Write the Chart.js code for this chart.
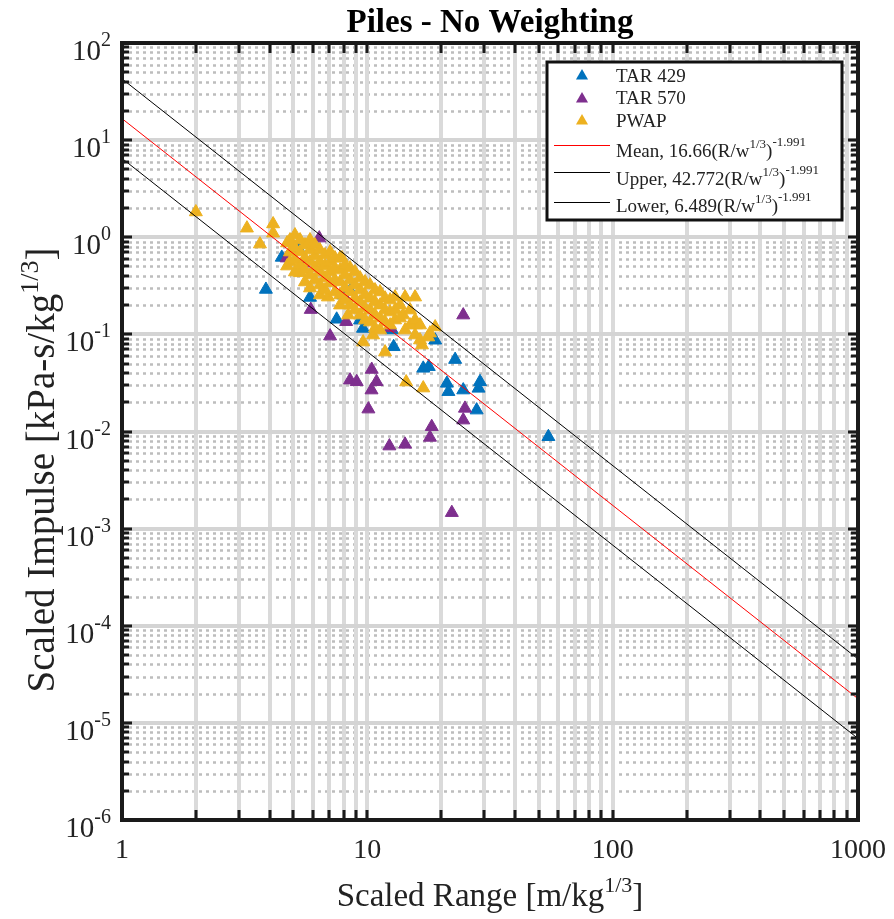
<!DOCTYPE html>
<html>
<head>
<meta charset="utf-8">
<script src="https://cdn.jsdelivr.net/npm/chart.js@4.4.0/dist/chart.umd.min.js"></script>
<style>
html,body{margin:0;padding:0;background:#ffffff;}
canvas{display:block;}
</style>
</head>
<body>
<canvas id="c" width="894" height="919"></canvas>
<script>
// ---------------- DATA ----------------
const chartTitle = 'Piles - No Weighting';
const seriesNames = ['TAR 429', 'TAR 570', 'PWAP'];
const seriesColors = ['#0072BD', '#7E2F8E', '#EDB120'];

// [scaled range, scaled impulse]
const tar429 = [
  [3.86,0.29],[4.48,0.62],[5.23,0.77],[5.84,0.24],[7.5,0.143],[7.98,0.254],[8.5,0.28],
  [9.34,0.14],[9.6,0.115],[12.6,0.111],[12.8,0.0745],[18.9,0.087],[16.9,0.0447],[17.8,0.0465],
  [22.8,0.055],[21.1,0.0313],[21.4,0.0257],[24.6,0.0267],[28.4,0.0278],[28.8,0.0325],
  [27.9,0.0166],[54.7,0.00883]
];
const tar570 = [
  [6.37,0.98],[4.69,0.61],[5.5,0.54],[5.88,0.18],[7.05,0.096],[8.2,0.135],[12.4,0.117],
  [24.6,0.158],[8.5,0.0338],[9.05,0.0325],[10.42,0.0435],[10.9,0.0325],[10.4,0.0267],
  [10.1,0.017],[12.3,0.00708],[14.25,0.00737],[18.0,0.00869],[18.3,0.0112],[22.1,0.00146],
  [24.6,0.0131],[25.0,0.0173]
];
const pwap = [
  [2.00,1.82],[3.23,1.24],[4.13,1.37],[4.13,1.10],[3.65,0.85],[4.89,0.89],[5.32,0.43],
  [6.91,0.242],[8.35,0.158],[9.61,0.0833],[10.55,0.0984],[11.81,0.0657],[14.4,0.0323],
  [16.9,0.028],[16.7,0.0776],[17.7,0.0938],[18.9,0.119],[18.0,0.103],[14.0,0.158],
  [15.8,0.125],[14.25,0.242],[15.65,0.242],[12.97,0.242],[4.71,0.505],[4.71,0.872],[7.88,0.61],
  [4.84,0.936],[4.84,0.704],[4.84,0.555],
  [5.07,1.054],[5.07,0.774],[5.07,0.582],[5.07,0.438],
  [5.32,0.936],[5.32,0.704],[5.32,0.517],
  [5.57,0.831],[5.57,0.611],[5.57,0.459],[5.57,0.346],
  [5.84,0.936],[5.84,0.738],[5.84,0.555],[5.84,0.408],[5.84,0.300],
  [6.12,0.831],[6.12,0.640],[6.12,0.482],[6.12,0.362],
  [6.41,0.738],[6.41,0.555],[6.41,0.438],[6.41,0.322],[6.41,0.254],
  [6.72,0.656],[6.72,0.505],[6.72,0.380],[6.72,0.286],
  [7.05,0.704],[7.05,0.555],[7.05,0.438],[7.05,0.338],
  [7.38,0.611],[7.38,0.482],[7.38,0.362],[7.38,0.273],
  [7.74,0.611],[7.74,0.459],[7.74,0.346],[7.74,0.254],[7.74,0.200],
  [8.11,0.517],[8.11,0.408],[8.11,0.300],[8.11,0.2255],
  [8.50,0.482],[8.50,0.362],[8.50,0.273],[8.50,0.200],
  [8.91,0.438],[8.91,0.322],[8.91,0.236],[8.91,0.178],
  [9.34,0.380],[9.34,0.286],[9.34,0.215],[9.34,0.158],
  [9.79,0.346],[9.79,0.254],[9.79,0.1866],[9.79,0.1404],
  [10.26,0.322],[10.26,0.236],[10.26,0.178],[10.26,0.1338],
  [10.75,0.286],[10.75,0.215],[10.75,0.158],[10.75,0.1161],
  [11.27,0.273],[11.27,0.200],[11.27,0.1472],[11.27,0.1107],
  [11.81,0.236],[11.81,0.178],[11.81,0.1338],
  [12.38,0.2255],[12.38,0.1697],[12.38,0.1247],
  [12.97,0.178],[12.97,0.1404],
  [13.59,0.200],[13.59,0.1472],
  [14.25,0.1107],
  [14.93,0.178],[14.93,0.1247],
  [15.65,0.1404],[15.65,0.0984],
  [16.40,0.1247],[16.40,0.0874]
];

// fit lines: I = c * (R/w^(1/3))^-1.991, end points at R = 1 and R = 1000
const fitNames = ['Mean', 'Upper', 'Lower'];
const fitCoefText = ['16.66', '42.772', '6.489'];
const fitExpText = '-1.991';
const fitColors = ['#ff0000', '#000000', '#000000'];
const fitX = [1, 1000];
const meanY = [16.66, 1.7728e-5];
const upperY = [42.772, 4.5514e-5];
const lowerY = [6.489, 6.905e-6];

// axes
const xRange = [1, 1000];
const yRange = [1e-6, 100];
const xTickValues = [1, 10, 100, 1000];
const xTickLabels = ['1', '10', '100', '1000'];
const yTickValues = [1e2, 1e1, 1e0, 1e-1, 1e-2, 1e-3, 1e-4, 1e-5, 1e-6];
const yTickExps = ['2', '1', '0', '-1', '-2', '-3', '-4', '-5', '-6'];
const xTitle = ['Scaled Range [m/kg', '1/3', ']'];
const yTitle = ['Scaled Impulse [kPa-s/kg', '1/3', ']'];

// ---------------- DRAWING ----------------
const SERIF = '"Liberation Serif", "Times New Roman", Times, serif';
function fnt(size, bold) { return (bold ? 'bold ' : '') + size + 'px ' + SERIF; }

function drawRich(ctx, parts, x, y, align) {
  let w = 0;
  parts.forEach(p => { ctx.font = p.font; w += ctx.measureText(p.t).width; });
  let cx = align === 'center' ? x - w / 2 : (align === 'right' ? x - w : x);
  ctx.textAlign = 'left';
  ctx.textBaseline = 'alphabetic';
  parts.forEach(p => {
    ctx.font = p.font;
    ctx.fillText(p.t, cx, y + (p.dy || 0));
    cx += ctx.measureText(p.t).width;
  });
}

function minorValues(lo, hi) {
  const out = [];
  for (let e = Math.round(Math.log10(lo)); e < Math.round(Math.log10(hi)); e++) {
    for (let m = 2; m <= 9; m++) out.push(m * Math.pow(10, e));
  }
  return out;
}
function decadeValues(lo, hi) {
  const out = [];
  for (let e = Math.round(Math.log10(lo)); e <= Math.round(Math.log10(hi)); e++) out.push(Math.pow(10, e));
  return out;
}

function triangle(ctx, x, y, r, color) {
  ctx.beginPath();
  ctx.moveTo(x, y - r);
  ctx.lineTo(x + r * Math.sin(2 * Math.PI / 3), y + r / 2);
  ctx.lineTo(x - r * Math.sin(2 * Math.PI / 3), y + r / 2);
  ctx.closePath();
  ctx.fillStyle = color;
  ctx.fill();
}

const gridPlugin = {
  id: 'matlabGrid',
  beforeDraw(chart) {
    const ctx = chart.ctx;
    ctx.save();
    ctx.fillStyle = '#ffffff';
    ctx.fillRect(0, 0, chart.width, chart.height);
    ctx.restore();
  },
  beforeDatasetsDraw(chart) {
    const ctx = chart.ctx, a = chart.chartArea;
    const xs = chart.scales.x, ys = chart.scales.y;
    ctx.save();
    // minor horizontal dotted
    ctx.strokeStyle = '#bdbdbd';
    ctx.lineWidth = 2.5;
    ctx.setLineDash([3, 4]);
    minorValues(yRange[0], yRange[1]).forEach(v => {
      const py = Math.round(ys.getPixelForValue(v)) + 0.5;
      ctx.beginPath(); ctx.moveTo(a.left, py); ctx.lineTo(a.right, py); ctx.stroke();
    });
    ctx.setLineDash([]);
    // vertical lines (minor + major)
    ctx.strokeStyle = '#dadada';
    ctx.lineWidth = 4;
    minorValues(xRange[0], xRange[1]).concat(decadeValues(xRange[0], xRange[1])).forEach(v => {
      const px = Math.round(xs.getPixelForValue(v));
      ctx.beginPath(); ctx.moveTo(px, a.top); ctx.lineTo(px, a.bottom); ctx.stroke();
    });
    // major horizontal
    ctx.strokeStyle = '#d4d4d4';
    ctx.lineWidth = 4;
    decadeValues(yRange[0], yRange[1]).forEach(v => {
      const py = Math.round(ys.getPixelForValue(v));
      ctx.beginPath(); ctx.moveTo(a.left, py); ctx.lineTo(a.right, py); ctx.stroke();
    });
    ctx.restore();
  },
  afterDraw(chart) {
    const ctx = chart.ctx, a = chart.chartArea;
    const xs = chart.scales.x, ys = chart.scales.y;
    ctx.save();
    // ticks (inward, all four sides)
    ctx.strokeStyle = '#1a1a1a';
    ctx.lineWidth = 3;
    const xAll = decadeValues(xRange[0], xRange[1]).map(v => [v, 10]).concat(minorValues(xRange[0], xRange[1]).map(v => [v, 10]));
    xAll.forEach(([v, len]) => {
      const px = Math.round(xs.getPixelForValue(v));
      ctx.beginPath(); ctx.moveTo(px, a.bottom); ctx.lineTo(px, a.bottom - len); ctx.stroke();
      ctx.beginPath(); ctx.moveTo(px, a.top); ctx.lineTo(px, a.top + len); ctx.stroke();
    });
    const yAll = decadeValues(yRange[0], yRange[1]).map(v => [v, 10]).concat(minorValues(yRange[0], yRange[1]).map(v => [v, 7]));
    yAll.forEach(([v, len]) => {
      const py = Math.round(ys.getPixelForValue(v));
      ctx.beginPath(); ctx.moveTo(a.left, py); ctx.lineTo(a.left + len, py); ctx.stroke();
      ctx.beginPath(); ctx.moveTo(a.right, py); ctx.lineTo(a.right - len, py); ctx.stroke();
    });
    // axes box
    ctx.lineWidth = 4;
    ctx.strokeStyle = '#1a1a1a';
    ctx.strokeRect(a.left, a.top, a.right - a.left, a.bottom - a.top);

    // tick labels
    ctx.fillStyle = '#222222';
    xTickValues.forEach((v, i) => {
      const px = xs.getPixelForValue(v);
      drawRich(ctx, [{ t: xTickLabels[i], font: fnt(28) }], px, a.bottom + 38, 'center');
    });
    yTickValues.forEach((v, i) => {
      const py = ys.getPixelForValue(v);
      drawRich(ctx, [
        { t: '10', font: fnt(29) },
        { t: yTickExps[i], font: fnt(20), dy: -14 }
      ], a.left - 11, py + 17, 'right');
    });

    // axis titles
    const cx = (a.left + a.right) / 2;
    drawRich(ctx, [
      { t: xTitle[0], font: fnt(33) },
      { t: xTitle[1], font: fnt(22), dy: -14 },
      { t: xTitle[2], font: fnt(33) }
    ], cx, 906, 'center');
    ctx.save();
    ctx.translate(54, 470);
    ctx.rotate(-Math.PI / 2);
    drawRich(ctx, [
      { t: yTitle[0], font: fnt(39) },
      { t: yTitle[1], font: fnt(26), dy: -16 },
      { t: yTitle[2], font: fnt(39) }
    ], 0, 0, 'center');
    ctx.restore();

    // title
    ctx.fillStyle = '#000000';
    drawRich(ctx, [{ t: chartTitle, font: fnt(33, true) }], cx, 32, 'center');

    // legend
    const L = { x: 547, y: 62, w: 295, h: 158 };
    ctx.fillStyle = '#ffffff';
    ctx.fillRect(L.x, L.y, L.w, L.h);
    ctx.lineWidth = 3;
    ctx.strokeStyle = '#111111';
    ctx.strokeRect(L.x, L.y, L.w, L.h);
    const mk = [75, 98, 120], tb = [82, 104, 127];
    seriesNames.forEach((n, i) => {
      triangle(ctx, 582, mk[i] + 1, 7, seriesColors[i]);
      ctx.fillStyle = '#222222';
      drawRich(ctx, [{ t: n, font: fnt(19) }], 616, tb[i], 'left');
    });
    const ly = [145, 172, 202], lb = [157, 185, 212];
    fitNames.forEach((n, i) => {
      ctx.strokeStyle = fitColors[i];
      ctx.lineWidth = 1.2;
      ctx.beginPath(); ctx.moveTo(554, ly[i] + 0.5); ctx.lineTo(610, ly[i] + 0.5); ctx.stroke();
      ctx.fillStyle = '#222222';
      drawRich(ctx, [
        { t: n + ', ' + fitCoefText[i] + '(R/w', font: fnt(19) },
        { t: '1/3', font: fnt(13), dy: -9 },
        { t: ')', font: fnt(19) },
        { t: fitExpText, font: fnt(13), dy: -11 }
      ], 616, lb[i], 'left');
    });
    ctx.restore();
  }
};

const toPts = arr => arr.map(p => ({ x: p[0], y: p[1] }));
const linePts = ys => fitX.map((x, i) => ({ x: x, y: ys[i] }));

function markerSet(name, data, color, order) {
  return {
    label: name, data: toPts(data), order: order,
    pointStyle: 'triangle', pointRadius: 7.5, pointHoverRadius: 7.5,
    backgroundColor: color, borderColor: color, borderWidth: 1, showLine: false
  };
}
function lineSet(name, data, color) {
  return {
    label: name, data: linePts(data), order: 0, showLine: true,
    borderColor: color, borderWidth: 1, pointRadius: 0, fill: false
  };
}

new Chart(document.getElementById('c').getContext('2d'), {
  type: 'scatter',
  data: {
    datasets: [
      lineSet(fitNames[0], meanY, fitColors[0]),
      lineSet(fitNames[1], upperY, fitColors[1]),
      lineSet(fitNames[2], lowerY, fitColors[2]),
      markerSet(seriesNames[2], pwap, seriesColors[2], 1),
      markerSet(seriesNames[1], tar570, seriesColors[1], 2),
      markerSet(seriesNames[0], tar429, seriesColors[0], 3)
    ]
  },
  options: {
    responsive: false,
    animation: false,
    devicePixelRatio: 1,
    layout: { padding: { left: 122, right: 36, top: 43, bottom: 99 } },
    plugins: { legend: { display: false }, title: { display: false }, tooltip: { enabled: false } },
    events: [],
    scales: {
      x: { type: 'logarithmic', min: xRange[0], max: xRange[1], display: false },
      y: { type: 'logarithmic', min: yRange[0], max: yRange[1], display: false }
    }
  },
  plugins: [gridPlugin]
});
</script>
</body>
</html>
